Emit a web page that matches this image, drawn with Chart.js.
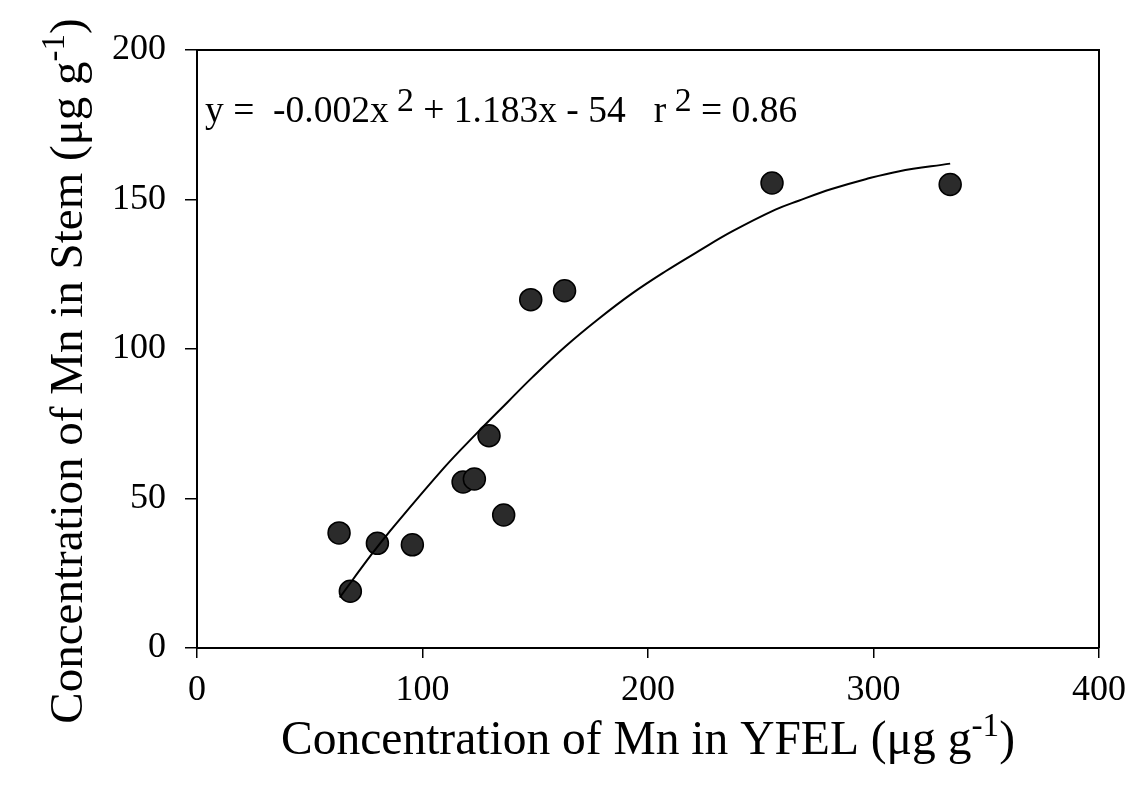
<!DOCTYPE html>
<html>
<head>
<meta charset="utf-8">
<script src="https://cdn.jsdelivr.net/npm/chart.js@4/dist/chart.umd.min.js"></script>
<style>
  html, body { margin: 0; padding: 0; background: #fff; }
  #wrap { width: 1137px; height: 791px; position: relative; }
</style>
</head>
<body>
<div id="wrap"><canvas id="mnChart"></canvas></div>
<script>
// observed samples (YFEL vs stem Mn, µg g-1)
const yfelMn = [63, 68, 80, 95.5, 118, 123, 129.5, 136, 148, 163, 255, 334];
const stemMn = [38.5, 19, 35, 34.5, 55.5, 56.5, 71, 44.5, 116.5, 119.5, 155.5, 155];

// fitted curve
const fitX = [63.3, 77.3, 84.6, 109.7, 123.8, 137.7, 148.8, 163.6, 178.3, 193, 207.8, 222.6, 237.3, 256.5, 266.8, 281.4, 296.5, 311, 334];
const fitY = [16.9, 31.2, 38.2, 60.4, 71.6, 82.2, 90.6, 101, 110.2, 118.6, 126, 132.8, 139.3, 146.6, 149.6, 153.5, 156.8, 159.4, 162];

const xTicks = [0, 100, 200, 300, 400];
const yTicks = [0, 50, 100, 150, 200];

const equationParts = [
  { t: "y =  -0.002x" }, { t: " 2", sup: true }, { t: " + 1.183x - 54   r" },
  { t: " 2", sup: true }, { t: " = 0.86" }
];
const xTitleParts = [{ t: "Concentration of Mn in YFEL (\u03BCg g" }, { t: "-1", sup: true }, { t: ")" }];
const yTitleParts = [{ t: "Concentration of Mn in Stem (\u03BCg g" }, { t: "-1", sup: true }, { t: ")" }];

const FONT = "'Liberation Serif', 'Times New Roman', serif";

function richWidth(ctx, parts, size, supScale) {
  let w = 0;
  parts.forEach(p => {
    ctx.font = (p.sup ? size * supScale : size) + "px " + FONT;
    w += ctx.measureText(p.t).width;
  });
  return w;
}

function drawRich(ctx, parts, x, y, size, supScale, supRise) {
  let cx = x;
  parts.forEach(p => {
    ctx.font = (p.sup ? size * supScale : size) + "px " + FONT;
    ctx.fillText(p.t, cx, p.sup ? y - supRise : y);
    cx += ctx.measureText(p.t).width;
  });
}

const decorations = {
  id: "decorations",
  afterDraw(chart) {
    const ctx = chart.ctx;
    const a = chart.chartArea;
    ctx.save();
    // top and right frame lines
    ctx.strokeStyle = "#000";
    ctx.lineWidth = 2;
    ctx.beginPath();
    ctx.moveTo(a.left, a.top);
    ctx.lineTo(a.right, a.top);
    ctx.lineTo(a.right, a.bottom);
    ctx.stroke();

    ctx.fillStyle = "#000";
    ctx.textBaseline = "alphabetic";
    ctx.textAlign = "left";
    drawRich(ctx, equationParts, 205, 122, 37.5, 0.9, 11);

    // x axis title
    const xs = 47.5;
    const xw = richWidth(ctx, xTitleParts, xs, 0.7);
    drawRich(ctx, xTitleParts, 648 - xw / 2, 754, xs, 0.7, 18);

    // y axis title, rotated
    const yw = richWidth(ctx, yTitleParts, 47, 0.7);
    ctx.translate(82, 371);
    ctx.rotate(-Math.PI / 2);
    drawRich(ctx, yTitleParts, -yw / 2, 0, 47, 0.7, 18);
    ctx.restore();
  }
};

const fitPoints = fitX.map((x, i) => ({ x: x, y: fitY[i] }));
const samplePoints = yfelMn.map((x, i) => ({ x: x, y: stemMn[i] }));

new Chart(document.getElementById("mnChart"), {
  type: "scatter",
  data: {
    datasets: [
      {
        label: "fit",
        data: fitPoints,
        showLine: true,
        borderColor: "#000",
        borderWidth: 2,
        pointRadius: 0,
        tension: 0.4
      },
      {
        label: "samples",
        data: samplePoints,
        pointRadius: 11,
        pointBackgroundColor: "#2b2b2b",
        pointBorderColor: "#000",
        pointBorderWidth: 1.5
      }
    ]
  },
  options: {
    responsive: true,
    maintainAspectRatio: false,
    animation: false,
    layout: { padding: { top: 50, right: 36, left: 0, bottom: 0 } },
    plugins: { legend: { display: false }, tooltip: { enabled: false } },
    scales: {
      x: {
        type: "linear",
        min: 0,
        max: 400,
        afterBuildTicks: s => { s.ticks = xTicks.map(v => ({ value: v })); },
        afterFit: s => { s.height = 143; },
        border: { display: true, color: "#000", width: 2 },
        grid: { drawOnChartArea: false, drawTicks: true, tickLength: 10, color: "#000", lineWidth: 1.5 },
        ticks: { color: "#000", padding: 11, font: { family: FONT, size: 36 } }
      },
      y: {
        type: "linear",
        min: 0,
        max: 200,
        afterBuildTicks: s => { s.ticks = yTicks.map(v => ({ value: v })); },
        afterFit: s => { s.width = 197; },
        border: { display: true, color: "#000", width: 2 },
        grid: { drawOnChartArea: false, drawTicks: true, tickLength: 12, color: "#000", lineWidth: 1.5 },
        ticks: { color: "#000", padding: 19, font: { family: FONT, size: 36 } }
      }
    }
  },
  plugins: [decorations]
});
</script>
</body>
</html>
